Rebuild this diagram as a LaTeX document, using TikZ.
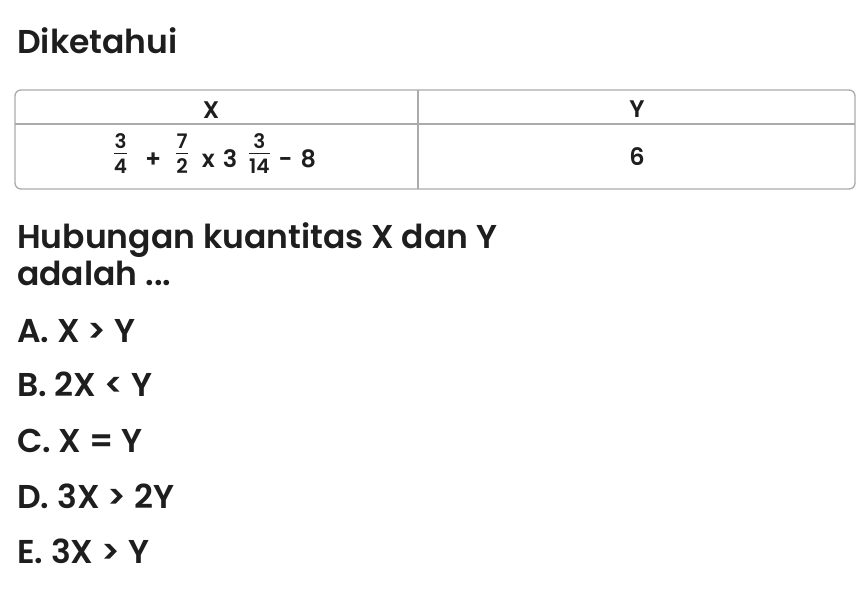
\documentclass[tikz,border=0pt]{standalone}
\usepackage{fontspec}
\setmainfont{Poppins}[UprightFont=* SemiBold, BoldFont=* Bold]
\definecolor{ink}{HTML}{1E1E1E}
\definecolor{rule}{HTML}{ABABAB}
\newcommand{\frc}[2]{\raisebox{-6pt}{\fontsize{20}{20}\selectfont\vbox{\halign{\hfil##\hfil\cr #1\cr\noalign{\kern4pt\hrule height0.6pt\kern5pt}#2\cr}}}}
\tikzset{
  txt/.style={anchor=base west, inner sep=0pt, text=ink, font=\fontsize{33}{38}\selectfont},
  cell/.style={anchor=base, inner sep=0pt, text=ink, font=\fontsize{24}{28}\selectfont},
}
\begin{document}
\begin{tikzpicture}[x=1pt, y=-1pt]
  \useasboundingbox[fill=white] (0,0) rectangle (868,592);
  \node[txt] (title) at (17,53) {Diketahui};
  % table
  \draw[rule, line width=1.3pt, rounded corners=6pt] (15,90) rectangle (855,189);
  \draw[rule, line width=1.1pt] (15,124) -- (855,124);
  \draw[rule, line width=1.1pt] (418,90) -- (418,189);
  \node[cell] (hx) at (211,118) {X};
  \node[cell] (hy) at (637,117) {Y};
  \node[cell] (vx) at (215,167) {\frc{3}{4}\hspace{18pt}+\hspace{15pt}\frc{7}{2}\hspace{14pt}x\hspace{8pt}3\hspace{12pt}\frc{3}{14}\hspace{9pt}-\hspace{8pt}8};
  \node[cell] (vy) at (637,165) {6};
  % question
  \node[txt] (q1) at (17,248) {Hubungan kuantitas X dan Y};
  \node[txt] (q2) at (17,285) {adalah ...};
  \node[txt] (a) at (17,342) {A. X > Y};
  \node[txt] (b) at (17,396) {B. 2X < Y};
  \node[txt] (c) at (17,452) {C. X = Y};
  \node[txt] (d) at (17,508) {D. 3X > 2Y};
  \node[txt] (e) at (17,563) {E. 3X > Y};
\end{tikzpicture}
\end{document}
